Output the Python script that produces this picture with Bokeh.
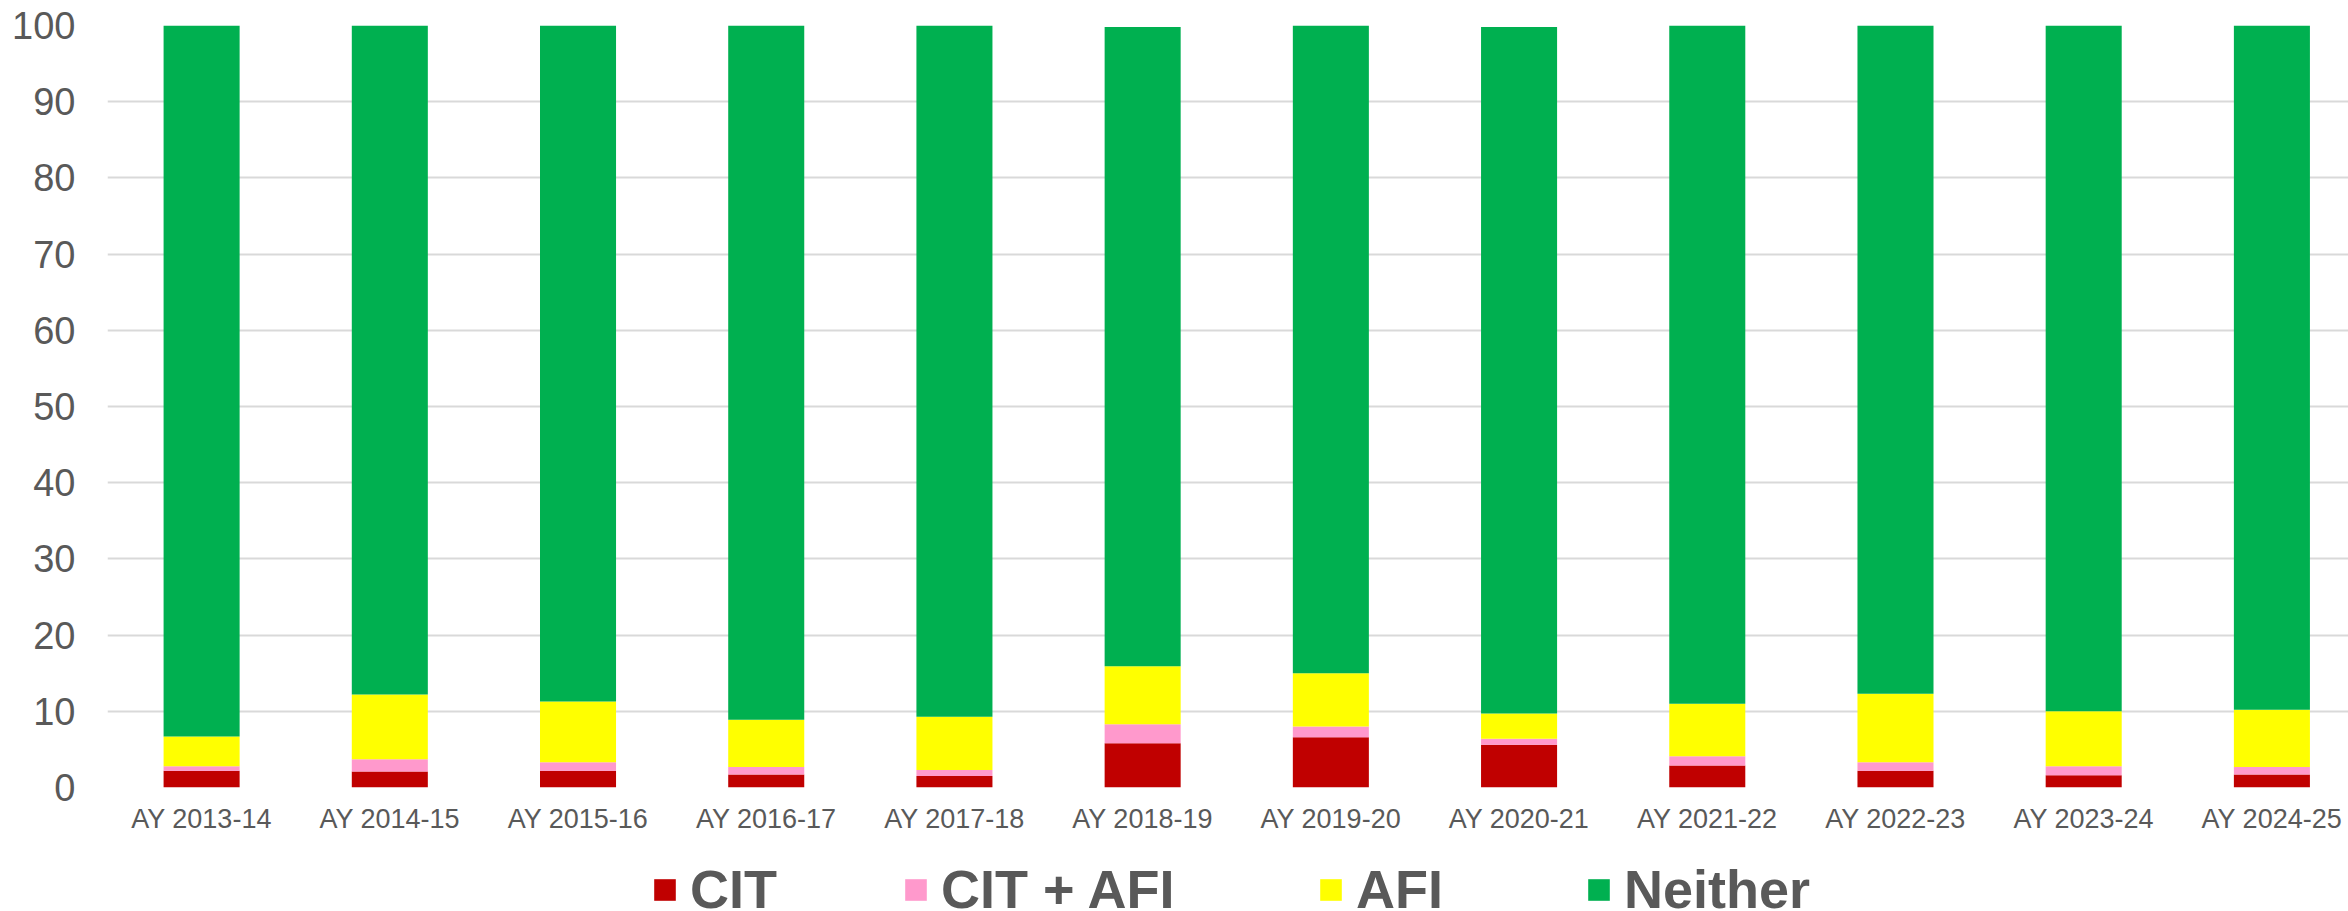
from bokeh.plotting import figure
from bokeh.models import ColumnDataSource, Range1d, FixedTicker, Legend, LegendItem
from bokeh.layouts import column
from bokeh.embed import file_html
from bokeh.resources import INLINE

years = ["AY 2013-14", "AY 2014-15", "AY 2015-16", "AY 2016-17", "AY 2017-18", "AY 2018-19",
         "AY 2019-20", "AY 2020-21", "AY 2021-22", "AY 2022-23", "AY 2023-24", "AY 2024-25"]
cit = [2.2, 2.1, 2.2, 1.7, 1.5, 5.8, 6.6, 5.6, 2.9, 2.2, 1.6, 1.7]
cit_afi = [0.6, 1.6, 1.1, 1.0, 0.8, 2.5, 1.4, 0.8, 1.2, 1.1, 1.2, 1.0]
afi = [3.9, 8.5, 8.0, 6.2, 7.0, 7.6, 7.0, 3.3, 6.9, 9.0, 7.2, 7.5]
neither = [93.3, 87.8, 88.7, 91.1, 90.7, 83.9, 85.0, 90.1, 89.0, 87.7, 90.0, 89.8]
series = ["CIT", "CIT + AFI", "AFI", "Neither"]
colors = ["#C00000", "#FF99CC", "#FFFF00", "#00B050"]
y_ticks = [0, 10, 20, 30, 40, 50, 60, 70, 80, 90, 100]

xpos = list(range(len(years)))
src = ColumnDataSource(dict(x=xpos, CIT=cit, CIT_AFI=cit_afi, AFI=afi, Neither=neither))
keys = ["CIT", "CIT_AFI", "AFI", "Neither"]

LEG_H = 70
p = figure(width=2348, height=911 - LEG_H, output_backend="svg", toolbar_location=None,
           x_range=Range1d(-0.5, 11.407), y_range=Range1d(0, 100),
           min_border_left=107, min_border_right=0, min_border_top=25,
           min_border_bottom=911 - LEG_H - 787)
p.outline_line_color = None
p.background_fill_color = "white"

rs = p.vbar_stack(keys, x="x", width=0.404, source=src, color=colors, line_color=None)

p.xgrid.grid_line_color = None
p.ygrid.grid_line_color = "#D9D9D9"
p.ygrid.grid_line_width = 2
p.ygrid.ticker = FixedTicker(ticks=y_ticks)

p.yaxis.ticker = FixedTicker(ticks=y_ticks)
p.yaxis.axis_line_color = None
p.yaxis.major_tick_line_color = None
p.yaxis.minor_tick_line_color = None
p.yaxis.major_tick_out = 0
p.yaxis.major_label_standoff = 32
p.yaxis.major_label_text_font = "Liberation Sans"
p.yaxis.major_label_text_font_size = "38px"
p.yaxis.major_label_text_color = "#595959"

p.xaxis.ticker = FixedTicker(ticks=xpos)
p.xaxis.major_label_overrides = {i: y for i, y in enumerate(years)}
p.xaxis.axis_line_color = None
p.xaxis.major_tick_line_color = None
p.xaxis.minor_tick_line_color = None
p.xaxis.major_tick_out = 0
p.xaxis.major_label_standoff = 16
p.xaxis.major_label_text_font = "Liberation Sans"
p.xaxis.major_label_text_font_size = "27px"
p.xaxis.major_label_text_color = "#595959"

# legend strip below the chart (its frame is aligned with the chart's frame)
lg = figure(width=2348, height=LEG_H, output_backend="svg", toolbar_location=None,
            x_range=Range1d(0, 1), y_range=Range1d(0, 1),
            x_axis_location=None, y_axis_location=None,
            min_border_left=0, min_border_right=0, min_border_top=0, min_border_bottom=0)
lg.outline_line_color = None
lg.xgrid.visible = False
lg.ygrid.visible = False
offscreen = ColumnDataSource(dict(x=[-10], top=[-10]))
lrs = [lg.vbar(x="x", top="top", bottom=-11, width=0.1, source=offscreen,
               fill_color=c, line_color=None) for c in colors]
legend_x = [544, 795, 1210, 1478]
for s, r, lx in zip(series, lrs, legend_x):
    leg = Legend(items=[LegendItem(label=s, renderers=[r])], orientation="horizontal",
                 location=(lx, -9),
                 glyph_width=27, glyph_height=27, label_standoff=12, spacing=0,
                 padding=0, margin=0, border_line_color=None, background_fill_alpha=0,
                 label_text_font="Liberation Sans", label_text_font_style="bold",
                 label_text_font_size="54px", label_text_color="#595959")
    lg.add_layout(leg, "center")

layout = column(p, lg, spacing=0)
open("out.html", "w").write(file_html(layout, INLINE))
